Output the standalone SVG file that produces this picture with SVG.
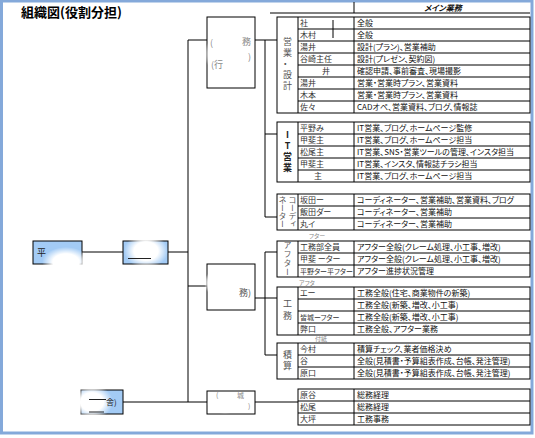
<svg xmlns="http://www.w3.org/2000/svg" width="535" height="438" viewBox="0 0 535 438">
<defs>
<style>
text{font-family:"Noto Sans CJK JP","Noto Sans",sans-serif;font-feature-settings:"palt" 1;}
.d{font-size:8px;fill:#111;}
.nm{font-size:8px;fill:#333;}
.v{font-size:9px;fill:#555;writing-mode:vertical-rl;text-orientation:upright;text-anchor:middle;}
.sm{font-size:6px;fill:#888;}
.g{font-size:9px;fill:#888;}
.box{fill:#fff;stroke:#000;stroke-width:1;}
.blue{fill:#a3cbf5;stroke:#000;stroke-width:1;}
.ln{stroke:#000;stroke-width:1;fill:none;}
.tb{fill:none;stroke:#000;stroke-width:1;}
</style>
<radialGradient id="wb"><stop offset="0" stop-color="#fff"/><stop offset="0.55" stop-color="#fff"/><stop offset="1" stop-color="#fff" stop-opacity="0"/></radialGradient>
</defs>
<rect x="0" y="0" width="535" height="438" fill="#fff"/>
<rect x="1.5" y="1" width="530.5" height="432" fill="none" stroke="#84a9da" stroke-width="3"/>
<text x="21" y="17" style="font-size:13px;font-weight:bold;fill:#000">組織図(役割分担)</text>

<g id="connectors">
<path class="ln" d="M188 40V402M188 40H207M255 40H265M265 40V217M265 40H277M265 134H277M265 217H277"/>
<path class="ln" d="M82 252H123M168 252H188M188 286H207M255 298H265M265 252V355M265 252H277M265 298H277M265 355H277"/>
<path class="ln" d="M123 402H188M188 402H207M255 402H298"/>
</g>

<g id="node-top">
<rect class="box" x="207" y="17" width="48" height="71"/>
<ellipse cx="220" cy="54" rx="16" ry="18" fill="url(#wb)"/>
<text class="g" x="210" y="46">(</text>
<text class="g" x="242" y="45">務</text>
<text class="g" x="248" y="60">)</text>
<text class="g" x="211" y="68">(行</text>
</g>
<g id="node-mid">
<rect class="box" x="207" y="264" width="48" height="46"/>
<ellipse cx="214" cy="283" rx="10" ry="12" fill="url(#wb)"/>
<text x="239" y="296" style="font-size:9px;fill:#555">務)</text>
</g>
<g id="node-bottom">
<rect class="box" x="207" y="391" width="48" height="23"/>
<ellipse cx="225" cy="404" rx="18" ry="10" fill="url(#wb)"/>
<text class="g" x="216" y="398" style="font-size:7px">(</text>
<text class="g" x="237" y="398" style="font-size:7px">城</text>
<text class="g" x="248" y="409" style="font-size:7px">)</text>
</g>
<g id="node-a">
<rect class="blue" x="33" y="241" width="49" height="23"/>
<ellipse cx="66" cy="262" rx="24" ry="15" fill="url(#wb)"/>
<text x="37" y="256" style="font-size:9px;fill:#222">平</text>
</g>
<g id="node-b">
<rect class="blue" x="123" y="241" width="45" height="23"/>
<ellipse cx="146" cy="251" rx="22" ry="17" fill="url(#wb)"/>
<path d="M128 258.5H151" stroke="#222" stroke-width="1"/>
</g>
<g id="node-c">
<rect class="blue" x="81" y="390" width="42" height="24"/>
<ellipse cx="92" cy="402" rx="21" ry="17" fill="url(#wb)"/>
<path d="M89 399.5H106M89 412H104" stroke="#222" stroke-width="1"/>
<text x="106" y="405" style="font-size:8px;fill:#222">舎)</text>
</g>

<g id="header">
<path class="tb" d="M270 13H530M354 2V13"/>
<text x="443" y="11" text-anchor="middle" style="font-size:8px;font-style:italic;font-weight:bold;fill:#111">メイン業務</text>
</g>

<g id="sec-eigyo">
<rect class="tb" x="277" y="17" width="253" height="96"/>
<path class="tb" d="M298 17V113M354 17V113M298 29H530M298 41H530M298 53H530M298 65H530M298 77H530M298 89H530M298 101H530"/>
<path d="M333 20V38" stroke="#000" stroke-width="1"/>
<text class="v" x="287.5" y="65" style="letter-spacing:2px">営業・設計</text>
<text class="nm" x="300" y="26">社</text>
<text class="nm" x="300" y="38">木村</text>
<text class="nm" x="300" y="50">湯井</text>
<text class="nm" x="300" y="62">谷崎主任</text>
<text class="nm" x="322" y="74">井</text>
<text class="nm" x="300" y="86">湯井</text>
<text class="nm" x="300" y="98">木本</text>
<text class="nm" x="300" y="110">佐々</text>
<text class="d" x="357" y="26">全般</text>
<text class="d" x="357" y="38">全般</text>
<text class="d" x="357" y="50">設計(プラン)、営業補助</text>
<text class="d" x="357" y="62">設計(プレゼン、契約図)</text>
<text class="d" x="357" y="74">確認申請、事前審査、現場撮影</text>
<text class="d" x="357" y="86">営業・営業時プラン、営業資料</text>
<text class="d" x="357" y="98">営業・営業時プラン、営業資料</text>
<text class="d" x="357" y="110">CADオペ、営業資料、ブログ、情報誌</text>
</g>

<g id="sec-it">
<rect class="tb" x="277" y="122" width="253" height="60"/>
<path class="tb" d="M298 122V182M354 122V182M298 134H530M298 146H530M298 158H530M298 170H530"/>
<text class="v" x="287.5" y="152" style="letter-spacing:2px;font-weight:bold;fill:#222">IT営業</text>
<text class="nm" x="300" y="131">平野み</text>
<text class="nm" x="300" y="143">甲斐主</text>
<text class="nm" x="300" y="155">松尾主</text>
<text class="nm" x="300" y="167">甲斐主</text>
<text class="nm" x="314" y="179">主</text>
<text class="d" x="357" y="131">IT営業、ブログ、ホームページ監修</text>
<text class="d" x="357" y="143">IT営業、ブログ、ホームページ担当</text>
<text class="d" x="357" y="155">IT営業、SNS・営業ツールの管理、インスタ担当</text>
<text class="d" x="357" y="167">IT営業、インスタ、情報誌チラシ担当</text>
<text class="d" x="357" y="179">IT営業、ブログ、ホームページ担当</text>
</g>

<g id="sec-coord">
<rect class="tb" x="277" y="194" width="253" height="36"/>
<path class="tb" d="M298 194V230M354 194V230M298 206H530M298 218H530"/>
<text class="v" x="292.5" y="212" style="font-size:8px">コーディ</text>
<text class="v" x="282.5" y="212" style="font-size:8px">ネーター</text>
<text class="nm" x="300" y="203">坂田ー</text>
<text class="nm" x="300" y="215">飯田ダー</text>
<text class="nm" x="300" y="227">丸イ</text>
<text class="d" x="357" y="203">コーディネーター、営業補助、営業資料、ブログ</text>
<text class="d" x="357" y="215">コーディネーター、営業補助</text>
<text class="d" x="357" y="227">コーディネーター、営業補助</text>
</g>
<text class="sm" x="309" y="238">フター</text>

<g id="sec-after">
<rect class="tb" x="277" y="241" width="253" height="36"/>
<path class="tb" d="M298 241V277M354 241V277M298 253H530M298 265H530"/>
<text class="v" x="287.5" y="259" style="font-size:8px;letter-spacing:1px">アフター</text>
<text class="nm" x="300" y="250">工務部全員</text>
<text class="nm" x="300" y="262">甲斐 ーター</text>
<text class="nm" x="300" y="274" style="font-size:7px">平野ター平フター</text>
<text class="d" x="357" y="250">アフター全般(クレーム処理、小工事、増改)</text>
<text class="d" x="357" y="262">アフター全般(クレーム処理、小工事、増改)</text>
<text class="d" x="357" y="274">アフター進捗状況管理</text>
</g>
<text class="sm" x="299" y="285">アフタ</text>

<g id="sec-koumu">
<rect class="tb" x="277" y="287" width="253" height="48"/>
<path class="tb" d="M298 287V335M354 287V335M298 299H530M298 311H530M298 323H530"/>
<text class="v" x="287.5" y="311" style="letter-spacing:3px">工務</text>
<text class="nm" x="300" y="296">エー</text>
<text class="nm" x="300" y="320" style="font-size:7px">皆城ーフター</text>
<text class="nm" x="300" y="332">弊口</text>
<text class="d" x="357" y="296">工務全般(住宅、商業物件の新築)</text>
<text class="d" x="357" y="308">工務全般(新築、増改、小工事)</text>
<text class="d" x="357" y="320">工務全般(新築、増改、小工事)</text>
<text class="d" x="357" y="332">工務全般、アフター業務</text>
</g>
<text class="sm" x="315" y="341">付紙</text>

<g id="sec-sekisan">
<rect class="tb" x="277" y="343" width="253" height="36"/>
<path class="tb" d="M298 343V379M354 343V379M298 355H530M298 367H530"/>
<text class="v" x="287.5" y="361" style="letter-spacing:2px">積算</text>
<text class="nm" x="300" y="352">今村</text>
<text class="nm" x="300" y="364">谷</text>
<text class="nm" x="300" y="376">原口</text>
<text class="d" x="357" y="352">積算チェック、業者価格決め</text>
<text class="d" x="357" y="364">全般(見積書・予算組表作成、台帳、発注管理)</text>
<text class="d" x="357" y="376">全般(見積書・予算組表作成、台帳、発注管理)</text>
</g>

<g id="sec-soumu">
<rect class="tb" x="298" y="389" width="232" height="36"/>
<path class="tb" d="M354 389V425M298 401H530M298 413H530"/>
<text class="nm" x="300" y="398">原谷</text>
<text class="nm" x="300" y="410">松尾</text>
<text class="nm" x="300" y="422">大坪</text>
<text class="d" x="357" y="398">総務経理</text>
<text class="d" x="357" y="410">総務経理</text>
<text class="d" x="357" y="422">工務事務</text>
</g>
</svg>
